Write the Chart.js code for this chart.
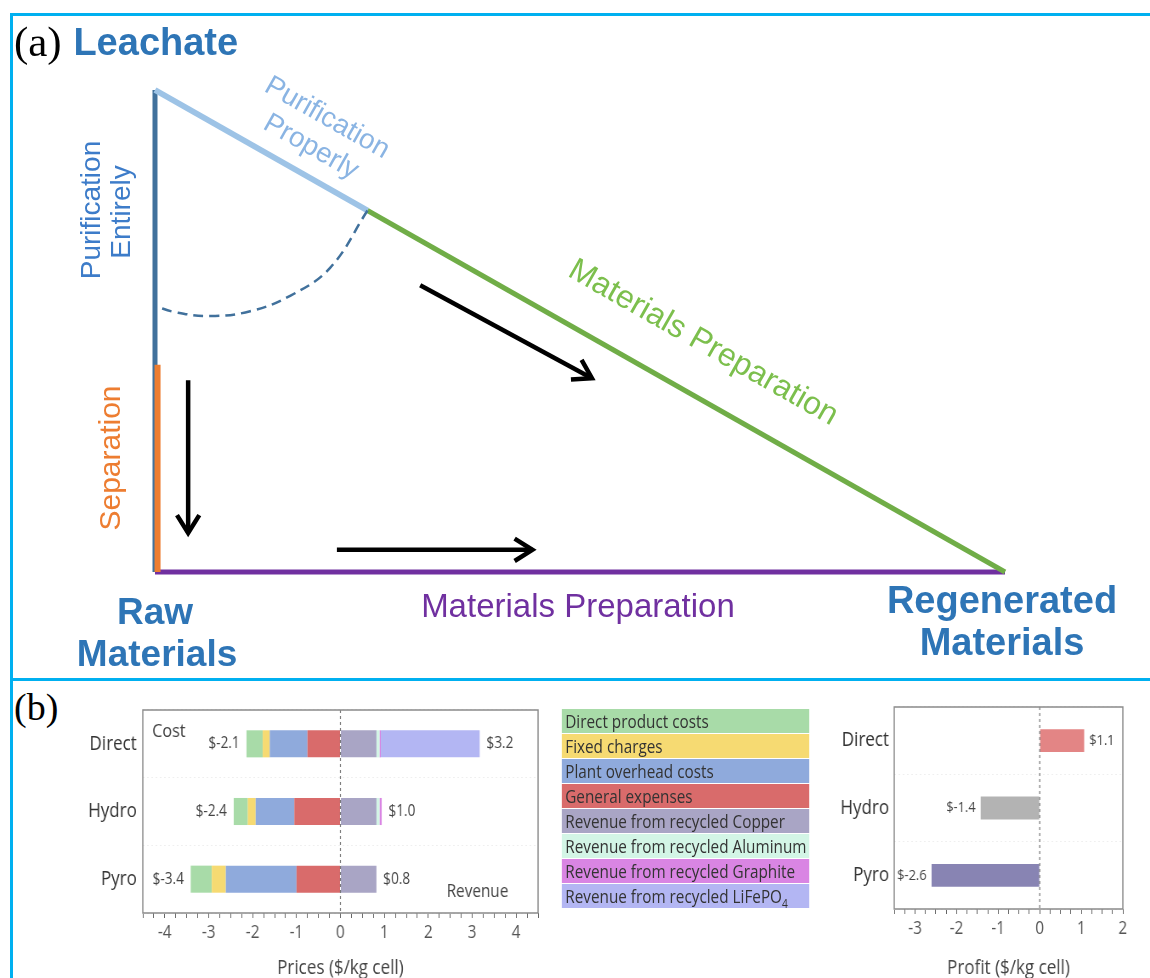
<!DOCTYPE html>
<html>
<head>
<meta charset="utf-8">
<script src="https://cdn.jsdelivr.net/npm/chart.js@4.4.1/dist/chart.umd.min.js"></script>
<style>
  body { margin: 0; background: #fff; width: 1150px; height: 978px; overflow: hidden; position: relative; }
  .frame { position: absolute; background: #00b0f0; z-index: 5; }
  #diagram { position: absolute; left: 0; top: 0; }
  #tagB { position: absolute; left: 14px; top: 688px; font: 38px "Liberation Serif", serif; line-height: 1; color: #000; }
  /* panel b is drawn a bit narrow, like the original figure */
  #panelB { position: absolute; left: 0; top: 680px; width: 1353px; height: 298px; transform: scaleX(0.85); transform-origin: 0 0; }
  #costChart { position: absolute; left: 60px; top: 11px; }
  #profitChart { position: absolute; left: 980px; top: 9px; }
  #legend { position: absolute; left: 661px; top: 29px; width: 291px; font: 18px "Open Sans", sans-serif; color: #333; }
  #legend div { height: 24px; line-height: 24px; margin-bottom: 1px; padding-left: 4px; white-space: nowrap; }
  #legend sub { font-size: 12px; line-height: 0; }
</style>
</head>
<body>
<div class="frame" style="left:10px;top:13px;width:1140px;height:3px"></div>
<div class="frame" style="left:10px;top:13px;width:3px;height:965px"></div>
<div class="frame" style="left:10px;top:678px;width:1140px;height:3px"></div>

<canvas id="diagram" width="1150" height="680"></canvas>
<div id="tagB">(b)</div>
<div id="panelB">
  <canvas id="costChart" width="590" height="287"></canvas>
  <div id="legend"></div>
  <canvas id="profitChart" width="360" height="289"></canvas>
</div>

<script>
// ---- (a) triangle, in triangle units: Raw = (0,0), Leachate = (0,1), Regenerated = (1,0)
const leachateNode = [0, 1];
const rawNode = [0, 0];
const regenNode = [1, 0];
const purifySplit = [0.25, 0.75];
const separationLine = [[0.003, 0.43], [0.003, 0]];
const arcPoints = [[0.25, 0.75], [0.206, 0.631], [0.159, 0.573], [0.112, 0.541], [0.065, 0.531], [0.024, 0.539], [0, 0.552]];
const arrowDown = [[0.039, 0.398], [0.039, 0.081]];
const arrowRight = [[0.214, 0.046], [0.444, 0.046]];
const arrowDiag = [[0.312, 0.595], [0.514, 0.402]];

// ---- (b) cost / revenue / profit per route
const routes = ['Direct', 'Hydro', 'Pyro'];
const directProductCosts = [-0.37, -0.32, -0.48];
const fixedCharges = [-0.16, -0.18, -0.32];
const plantOverheadCosts = [-0.86, -0.88, -1.61];
const generalExpenses = [-0.75, -1.05, -1.00];
const revCopper = [0.82, 0.82, 0.82];
const revAluminum = [0.07, 0.07, 0];
const revGraphite = [0.03, 0.05, 0];
const revLiFePO4 = [2.25, 0, 0];
const costTotals = [-2.1, -2.4, -3.4];
const revenueTotals = [3.2, 1.0, 0.8];
const profit = [1.07, -1.42, -2.6];
const profitLabels = [1.1, -1.4, -2.6];
const priceTicks = [-4, -3, -2, -1, 0, 1, 2, 3, 4];
const profitTicks = [-3, -2, -1, 0, 1, 2];
const legendNames = ['Direct product costs', 'Fixed charges', 'Plant overhead costs', 'General expenses',
  'Revenue from recycled Copper', 'Revenue from recycled Aluminum', 'Revenue from recycled Graphite', 'Revenue from recycled LiFePO4'];
const legendColors = ['#a8dba8', '#f6da72', '#8faadc', '#d96b6b', '#a9a5c5', '#d3f5e6', '#d985e3', '#b3b6f3'];
const profitColors = ['#e38585', '#b3b3b3', '#8884b3'];

const pts = arr => arr.map(([x, y]) => ({ x, y }));

const diagramLabels = [
  { text: '(a)', x: -0.166, y: 1.095, rot: 0, font: '43px "Liberation Serif"', color: '#000', align: 'left' },
  { text: 'Leachate', x: -0.096, y: 1.095, rot: 0, font: 'bold 38px "Liberation Sans"', color: '#2e75b6', align: 'left' },
  { text: 'Purification', x: -0.074, y: 0.751, rot: -90, font: '28px "Liberation Sans"', color: '#3d7cc9' },
  { text: 'Entirely', x: -0.039, y: 0.747, rot: -90, font: '28px "Liberation Sans"', color: '#3d7cc9' },
  { text: 'Purification', x: 0.2024, y: 0.9419, rot: 29.6, font: '28px "Liberation Sans"', color: '#8ab4e3' },
  { text: 'Properly', x: 0.1835, y: 0.8817, rot: 29.6, font: '28px "Liberation Sans"', color: '#8ab4e3' },
  { text: 'Materials Preparation', x: 0.6447, y: 0.4751, rot: 29.6, font: '32px "Liberation Sans"', color: '#7cbf4d' },
  { text: 'Separation', x: -0.0506, y: 0.2365, rot: -90, font: '30px "Liberation Sans"', color: '#ed7d31' },
  { text: 'Raw', x: 0, y: -0.086, rot: 0, font: 'bold 37px "Liberation Sans"', color: '#2e75b6' },
  { text: 'Materials', x: 0.0024, y: -0.174, rot: 0, font: 'bold 37px "Liberation Sans"', color: '#2e75b6' },
  { text: 'Materials Preparation', x: 0.4976, y: -0.075, rot: 0, font: '33px "Liberation Sans"', color: '#7030a0' },
  { text: 'Regenerated', x: 0.9965, y: -0.064, rot: 0, font: 'bold 38px "Liberation Sans"', color: '#2e75b6' },
  { text: 'Materials', x: 0.9965, y: -0.150, rot: 0, font: 'bold 38px "Liberation Sans"', color: '#2e75b6' }
];

const diagramText = {
  id: 'diagramText',
  afterDraw(chart) {
    const { ctx, scales: { x, y } } = chart;
    diagramLabels.forEach(l => {
      ctx.save();
      ctx.translate(x.getPixelForValue(l.x), y.getPixelForValue(l.y));
      ctx.rotate(l.rot * Math.PI / 180);
      ctx.font = l.font;
      ctx.fillStyle = l.color;
      ctx.textAlign = l.align || 'center';
      ctx.textBaseline = 'middle';
      ctx.fillText(l.text, 0, 0);
      ctx.restore();
    });
  }
};

// open V heads on the black arrows
const arrowHeads = {
  id: 'arrowHeads',
  afterDatasetsDraw(chart) {
    const { ctx, scales: { x, y } } = chart;
    chart.data.datasets.forEach(ds => {
      if (!ds.arrow) return;
      const n = ds.data.length;
      const a = ds.data[n - 2], b = ds.data[n - 1];
      const ax = x.getPixelForValue(a.x), ay = y.getPixelForValue(a.y);
      const bx = x.getPixelForValue(b.x), by = y.getPixelForValue(b.y);
      const ang = Math.atan2(by - ay, bx - ax);
      const len = 21, spread = 0.56;
      ctx.save();
      ctx.strokeStyle = ds.borderColor;
      ctx.lineWidth = ds.borderWidth;
      ctx.beginPath();
      ctx.moveTo(bx - len * Math.cos(ang - spread), by - len * Math.sin(ang - spread));
      ctx.lineTo(bx, by);
      ctx.lineTo(bx - len * Math.cos(ang + spread), by - len * Math.sin(ang + spread));
      ctx.stroke();
      ctx.restore();
    });
  }
};

const seg = (data, color, width, extra) => Object.assign({
  data, borderColor: color, borderWidth: width, showLine: true, pointRadius: 0, fill: false, tension: 0
}, extra || {});

new Chart(document.getElementById('diagram'), {
  type: 'scatter',
  data: {
    datasets: [
      seg(pts(arrowDown), '#000', 4.5, { arrow: true }),
      seg(pts(arrowRight), '#000', 4.5, { arrow: true }),
      seg(pts(arrowDiag), '#000', 4.5, { arrow: true }),
      seg(pts(arcPoints), '#41719c', 2.5, { borderDash: [10, 6], tension: 0.4 }),
      seg(pts(separationLine), '#ed7d31', 6),
      seg(pts([purifySplit, regenNode]), '#70ad47', 5),
      seg(pts([leachateNode, purifySplit]), '#9dc3e6', 6),
      seg(pts([rawNode, regenNode]), '#7030a0', 5),
      seg(pts([leachateNode, rawNode]), '#41719c', 5)
    ]
  },
  options: {
    responsive: false,
    animation: false,
    layout: { padding: 0 },
    plugins: { legend: { display: false }, tooltip: { enabled: false } },
    scales: {
      x: { type: 'linear', display: false, min: -0.18235, max: 1.17059 },
      y: { type: 'linear', display: false, min: -0.22407, max: 1.18672 }
    }
  },
  plugins: [arrowHeads, diagramText]
});

// ---- (b) legend
document.getElementById('legend').innerHTML = legendNames.map((n, i) =>
  `<div style="background:${legendColors[i]}">${n.replace('LiFePO4', 'LiFePO<sub>4</sub>')}</div>`).join('');

Chart.defaults.font.family = '"Open Sans", sans-serif';

// box, dashed zero line and value labels for the bar panels
const panelDecor = {
  id: 'panelDecor',
  afterDatasetsDraw(chart, args, opts) {
    const { ctx, chartArea: a, scales: { x, y } } = chart;
    ctx.save();
    ctx.strokeStyle = '#777';
    ctx.lineWidth = 1.2;
    ctx.setLineDash([3, 3]);
    ctx.beginPath();
    ctx.moveTo(x.getPixelForValue(0), a.top);
    ctx.lineTo(x.getPixelForValue(0), a.bottom);
    ctx.stroke();
    ctx.setLineDash([]);
    ctx.strokeStyle = '#8a8a8a';
    ctx.lineWidth = 1.5;
    ctx.strokeRect(a.left, a.top, a.right - a.left, a.bottom - a.top);

    ctx.font = opts.labelFont;
    ctx.fillStyle = '#444';
    ctx.textBaseline = 'middle';
    routes.forEach((r, i) => {
      let neg = 0, pos = 0;
      chart.data.datasets.forEach(ds => { const v = ds.data[i]; if (v < 0) neg += v; else pos += v; });
      const py = y.getPixelForValue(i);
      if (opts.negLabels[i] !== null && neg < 0) {
        ctx.textAlign = 'right';
        ctx.fillText('$' + opts.negLabels[i].toFixed(1), x.getPixelForValue(neg) - opts.gap, py);
      }
      if (opts.posLabels[i] !== null && pos > 0) {
        ctx.textAlign = 'left';
        ctx.fillText('$' + opts.posLabels[i].toFixed(1), x.getPixelForValue(pos) + opts.gap, py);
      }
    });
    (opts.notes || []).forEach(n => {
      ctx.font = n.font;
      ctx.fillStyle = '#444';
      ctx.textAlign = n.align;
      ctx.fillText(n.text, n.fromRight ? a.right + n.dx : a.left + n.dx, n.fromBottom ? a.bottom + n.dy : a.top + n.dy);
    });
    ctx.restore();
  }
};

const xAxis = (min, max, ticksShown, title, height) => ({
  type: 'linear', min, max, stacked: true,
  ticks: {
    stepSize: 0.25, autoSkip: false, maxRotation: 0, padding: 4, color: '#555', font: { size: 18 },
    callback: v => ticksShown.some(t => Math.abs(t - v) < 1e-6) ? String(Math.round(v)) : ''
  },
  grid: { drawOnChartArea: false, drawTicks: true, tickLength: 5, color: '#666' },
  border: { display: false },
  title: { display: true, text: title, color: '#444', font: { size: 20, lineHeight: 1 }, padding: 0 },
  afterFit(s) { s.height = height; }
});

const yAxis = (width, pad) => ({
  type: 'category', stacked: true,
  ticks: { color: '#333', font: { size: 20 }, padding: pad },
  grid: { offset: true, drawTicks: false, color: '#efefef' },
  border: { display: false, dash: [2, 3] },
  afterFit(s) { s.width = width; }
});

const bar = (label, data, color) => ({ label, data, backgroundColor: color, borderWidth: 0, barPercentage: 0.4, categoryPercentage: 1 });

new Chart(document.getElementById('costChart'), {
  type: 'bar',
  data: {
    labels: routes,
    datasets: [
      bar(legendNames[3], generalExpenses, legendColors[3]),
      bar(legendNames[2], plantOverheadCosts, legendColors[2]),
      bar(legendNames[1], fixedCharges, legendColors[1]),
      bar(legendNames[0], directProductCosts, legendColors[0]),
      bar(legendNames[4], revCopper, legendColors[4]),
      bar(legendNames[5], revAluminum, legendColors[5]),
      bar(legendNames[6], revGraphite, legendColors[6]),
      bar(legendNames[7], revLiFePO4, legendColors[7])
    ]
  },
  options: {
    indexAxis: 'y',
    responsive: false,
    animation: false,
    layout: { padding: { top: 9, right: 17, left: 0, bottom: 0 } },
    plugins: {
      legend: { display: false }, tooltip: { enabled: false },
      panelDecor: {
        labelFont: '16px "Open Sans"', gap: 8, negLabels: costTotals, posLabels: revenueTotals,
        notes: [
          { text: 'Cost', font: '19px "Open Sans"', align: 'left', dx: 11, dy: 22 },
          { text: 'Revenue', font: '18px "Open Sans"', align: 'right', dx: -35, dy: -21, fromRight: true, fromBottom: true }
        ]
      }
    },
    scales: { x: xAxis(-4.5, 4.5, priceTicks, 'Prices ($/kg cell)', 65), y: yAxis(108, 7) }
  },
  plugins: [panelDecor]
});

new Chart(document.getElementById('profitChart'), {
  type: 'bar',
  data: {
    labels: routes,
    datasets: [{ label: 'Profit', data: profit, backgroundColor: profitColors, borderWidth: 0, barPercentage: 0.34, categoryPercentage: 1 }]
  },
  options: {
    indexAxis: 'y',
    responsive: false,
    animation: false,
    layout: { padding: { top: 9, right: 19, left: 0, bottom: 0 } },
    plugins: {
      legend: { display: false }, tooltip: { enabled: false },
      panelDecor: {
        labelFont: '15px "Open Sans"', gap: 6,
        negLabels: profitLabels.map(v => v < 0 ? v : null),
        posLabels: profitLabels.map(v => v > 0 ? v : null)
      }
    },
    scales: { x: xAxis(-3.5, 2, profitTicks, 'Profit ($/kg cell)', 69), y: yAxis(72, 6) }
  },
  plugins: [panelDecor]
});
</script>
</body>
</html>
